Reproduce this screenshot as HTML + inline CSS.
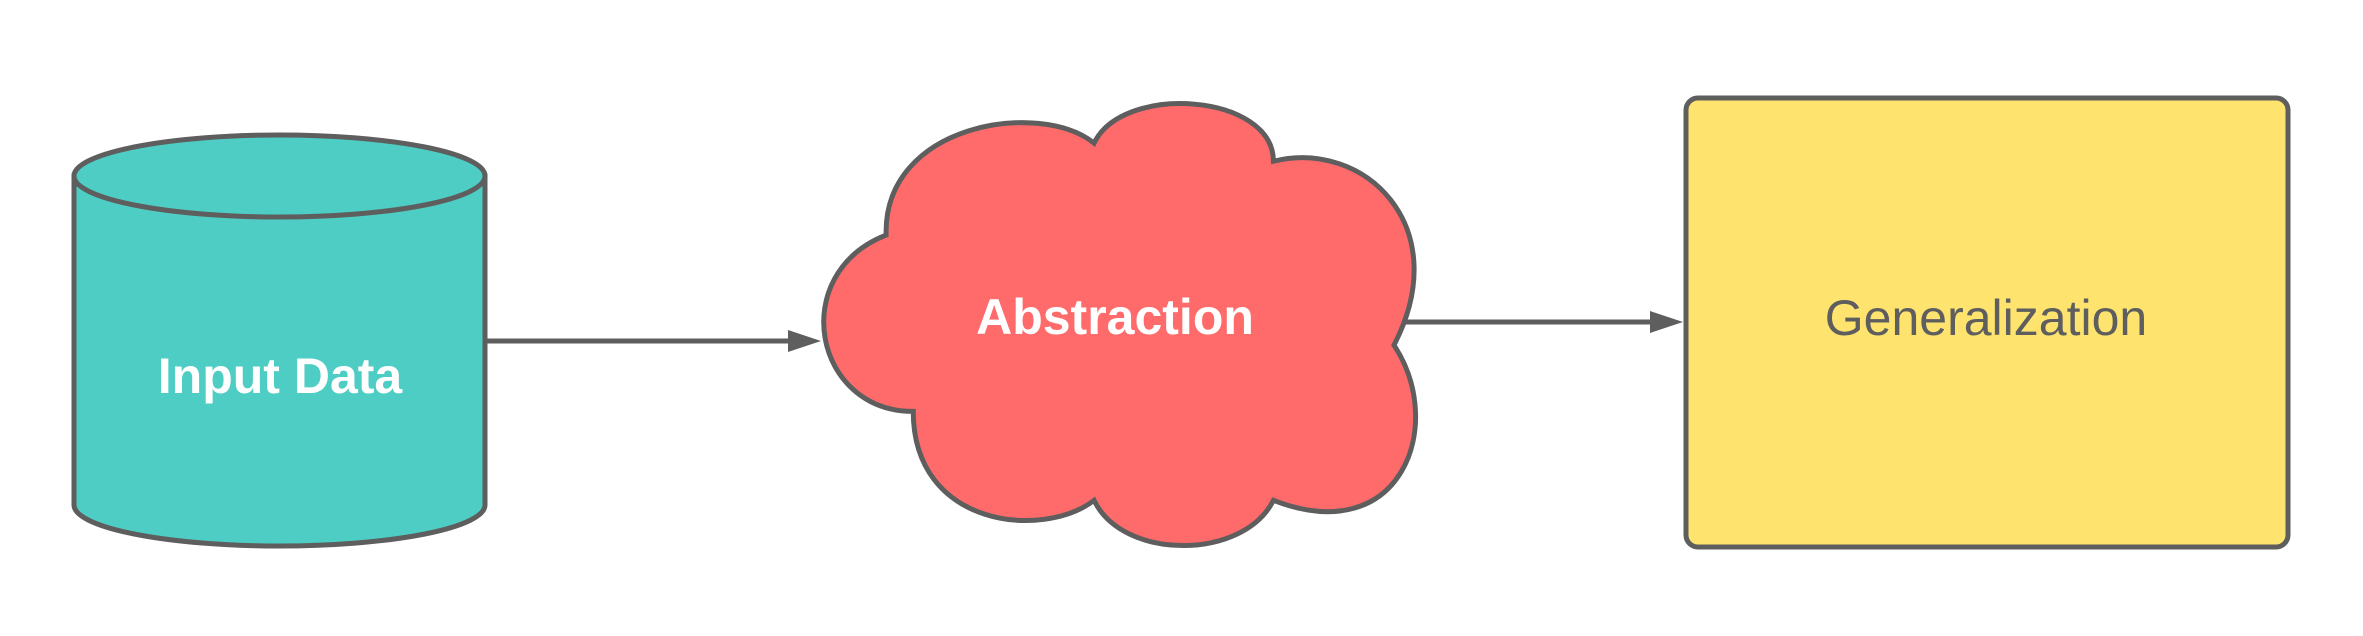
<!DOCTYPE html>
<html><head><style>html,body{margin:0;padding:0;background:#fff}svg{display:block}</style></head>
<body>
<svg width="2363" height="636" viewBox="0 0 2363 636" xmlns="http://www.w3.org/2000/svg">
<g stroke="#5e5e5e" stroke-width="5">
  <path d="M74,176 L74,505 A205.5,41 0 0 0 485,505 L485,176 Z" fill="#4ecdc4"/>
  <ellipse cx="279.5" cy="176" rx="205.5" ry="41" fill="#4ecdc4"/>
  <line x1="485" y1="341" x2="792" y2="341"/>
  <line x1="1403" y1="322" x2="1654" y2="322"/>
  <rect x="1686" y="98" width="602" height="449" rx="12" fill="#fee46e"/>
  <g transform="scale(1.507)">
    <path stroke-width="3.3" d="M588,156 C586,82 690,66 726,95 C745,55 845,62 845,107 C905,92 966,150 925,229 C960,282 930,365 845,332 C825,372 745,372 726,332 C692,358 606,350 606,273 C540,273 522,182 588,156 Z" fill="#ff6b6b"/>
  </g>
</g>
<g fill="#5e5e5e">
  <polygon points="788,330 821,341 788,352"/>
  <polygon points="1650,311 1683,322 1650,333"/>
</g>
<g font-family="'Liberation Sans', sans-serif" font-size="50" text-anchor="middle">
  <text x="280" y="393" fill="#fff" font-weight="bold">Input Data</text>
  <text x="1115" y="334" fill="#fff" font-weight="bold">Abstraction</text>
  <text x="1986" y="335" fill="#5e5e5e">Generalization</text>
</g>
</svg>
</body></html>
